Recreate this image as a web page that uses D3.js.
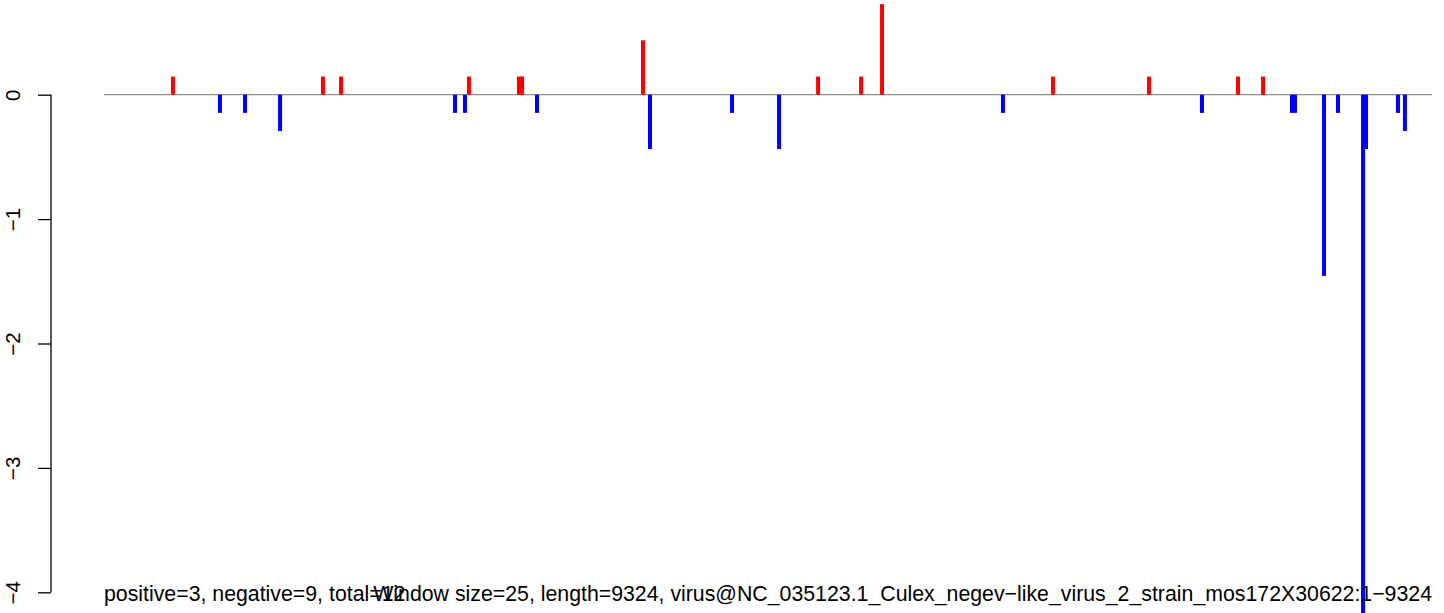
<!DOCTYPE html>
<html>
<head>
<meta charset="utf-8">
<script src="https://cdn.jsdelivr.net/npm/d3@7"></script>
<style>
  html, body { margin: 0; padding: 0; background: #fff; }
  svg { display: block; }
  text { font-family: "Liberation Sans", Arial, Helvetica, sans-serif; fill: #000; }
</style>
</head>
<body>
<svg id="chart" width="1444" height="613"></svg>
<script>
// ---- data ----
const positions = [485, 815, 991, 1237, 1538, 1665, 2465, 2535, 2563, 2914, 2936, 3041,
  3785, 3834, 4410, 4740, 5014, 5316, 5463, 6312, 6663, 7337, 7709, 7962, 8138,
  8341, 8362, 8566, 8664, 8840, 8861, 9085, 9134];
const values = [0.146, -0.146, -0.146, -0.292, 0.146, 0.146, -0.146, -0.146, 0.146, 0.146, 0.146, -0.146,
  0.437, -0.437, -0.146, -0.437, 0.146, 0.146, 0.728, -0.146, 0.146, 0.146, -0.146, 0.146, 0.146,
  -0.146, -0.146, -1.456, -0.146, -4.2, -0.437, -0.146, -0.292];
const yTicks = [0, -1, -2, -3, -4];
const genomeLength = 9324;
const leftLabel = "positive=3, negative=9, total=12";
const rightLabel = "Window size=25, length=9324, virus@NC_035123.1_Culex_negev\u2212like_virus_2_strain_mos172X30622:1\u22129324";

// ---- layout ----
const svg = d3.select("#chart");
const x = d3.scaleLinear().domain([1, genomeLength]).range([104, 1432]);
const y = d3.scaleLinear().domain([-4, 0]).range([592.3, 94.7]);

// zero line
svg.append("line")
  .attr("x1", x(1)).attr("x2", x(genomeLength))
  .attr("y1", y(0)).attr("y2", y(0))
  .attr("stroke", "#8f8f8f").attr("stroke-width", 1.3);

// bars
const data = positions.map((p, i) => ({ p, v: values[i] }));
svg.append("g").selectAll("rect").data(data).join("rect")
  .attr("x", d => x(d.p) - 2)
  .attr("width", 4)
  .attr("y", d => Math.min(y(d.v), y(0)))
  .attr("height", d => Math.abs(y(d.v) - y(0)))
  .attr("fill", d => d.v >= 0 ? "#ff0000" : "#0000ff");

// y axis
const yAxis = d3.axisLeft(y).tickValues(yTicks).tickFormat(d => d === 0 ? "0" : "\u2212" + Math.abs(d))
  .tickSize(13).tickPadding(0);
const ga = svg.append("g").attr("transform", "translate(51,0)").call(yAxis);
ga.select(".domain").attr("d", `M0,${y(0)}V${y(-4)}`).attr("stroke", "#000").attr("stroke-width", 1.3);
ga.selectAll(".tick line").attr("stroke", "#000").attr("stroke-width", 1.3);
ga.selectAll(".tick text")
  .attr("x", null).attr("dy", null)
  .attr("text-anchor", "middle")
  .attr("transform", "translate(-31.5,0) rotate(-90)")
  .style("font-size", "20.5px")
  .style("font-family", "'Liberation Sans', Arial, sans-serif");

// bottom labels
svg.append("text").attr("x", 104).attr("y", 601)
  .attr("text-anchor", "start").style("font-size", "21.3px").text(leftLabel);
svg.append("text").attr("x", 1432).attr("y", 601)
  .attr("text-anchor", "end").style("font-size", "21.3px").text(rightLabel);
</script>
</body>
</html>
